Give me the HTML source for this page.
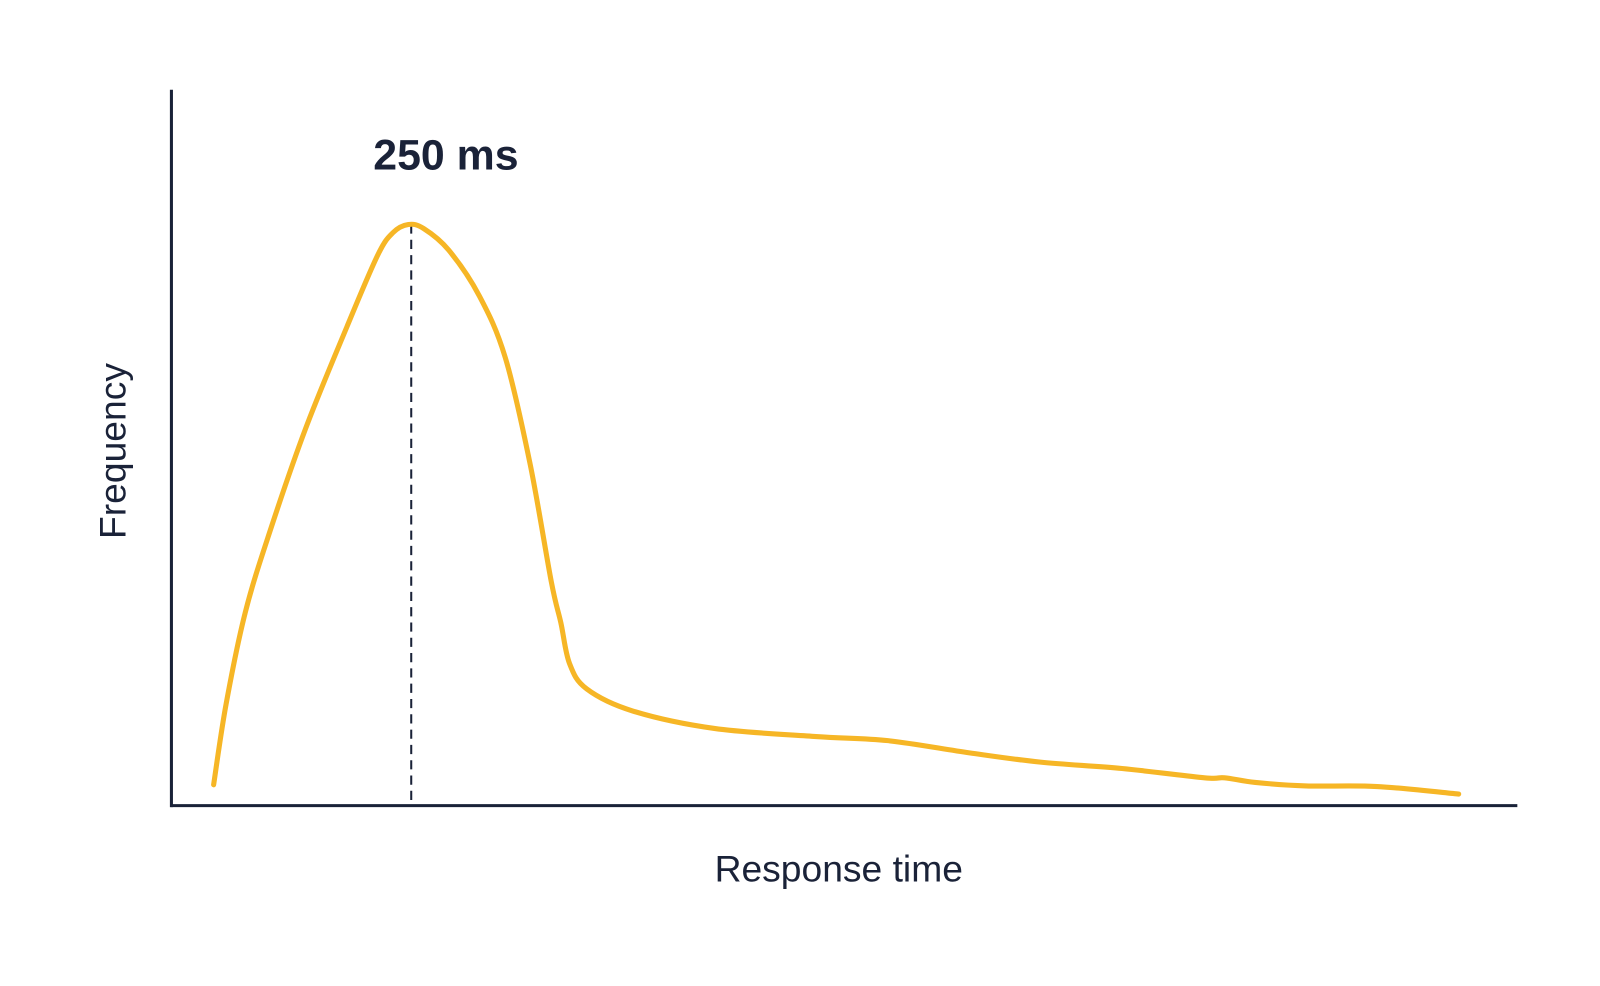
<!DOCTYPE html>
<html><head><meta charset="utf-8"><style>
html,body{margin:0;padding:0;background:#fff;}
svg{display:block;}
</style></head><body>
<svg id="chart" width="1600" height="986" xmlns="http://www.w3.org/2000/svg">
<rect width="1600" height="986" fill="#fff"/>
<g transform="scale(1.0204)">
<line x1="168" y1="88" x2="168" y2="791" stroke="#1a2238" stroke-width="3"/>
<line x1="167" y1="789.5" x2="1487" y2="789.5" stroke="#1a2238" stroke-width="3"/>
<text x="437" y="166" text-anchor="middle" font-family="Liberation Sans, sans-serif" font-weight="bold" font-size="42" fill="#1a2238">250 ms</text>
<text x="822" y="864" text-anchor="middle" font-family="Liberation Sans, sans-serif" font-size="36.5" fill="#1a2238">Response time</text>
<text transform="translate(123,442) rotate(-90)" text-anchor="middle" font-family="Liberation Sans, sans-serif" font-size="36.5" fill="#1a2238">Frequency</text>
<g id="plot"></g>
</g>
</svg>
<script>
const times = [44,57,77,103,140,183,215,231,247,263,289,321,348,374,396,406,415,433,481,566,672,747,832,906,991,1077,1098,1130,1183,1257,1342];
const freqs = [3.5,17.4,33.2,47.3,64.9,82.4,94.7,98.6,100,99.3,95.6,87.7,77.1,58.7,38.5,31.4,24.4,20.0,16.2,13.2,11.8,11.1,9.0,7.4,6.3,4.7,4.7,3.9,3.3,3.2,1.9];
const peakTime = 250;

function xScale(t){ return 168 + t / 1.0638; }
function yScale(f){ return 789 - f * 5.69; }

const NS = "http://www.w3.org/2000/svg";
const plot = document.getElementById('plot');
const pts = times.map((t,i)=>[xScale(t), yScale(freqs[i])]);
let d = "M" + pts[0][0] + "," + pts[0][1];
for (let i=0;i<pts.length-1;i++){
  const p0 = pts[i-1]||pts[i], p1 = pts[i], p2 = pts[i+1], p3 = pts[i+2]||p2;
  const c1x = p1[0]+(p2[0]-p0[0])/6, c1y = p1[1]+(p2[1]-p0[1])/6;
  const c2x = p2[0]-(p3[0]-p1[0])/6, c2y = p2[1]-(p3[1]-p1[1])/6;
  d += " C"+c1x+","+c1y+" "+c2x+","+c2y+" "+p2[0]+","+p2[1];
}
const peakIdx = freqs.indexOf(Math.max(...freqs));
const dash = document.createElementNS(NS,'line');


dash.setAttribute('x1', xScale(peakTime)); dash.setAttribute('x2', xScale(peakTime));
dash.setAttribute('y1', yScale(freqs[peakIdx])); dash.setAttribute('y2', 789);
dash.setAttribute('stroke', '#1a2238'); dash.setAttribute('stroke-width', '2');
dash.setAttribute('stroke-dasharray', '9,6');
plot.appendChild(dash);
const path = document.createElementNS(NS,'path');


path.setAttribute('d', d);
path.setAttribute('fill', 'none');
path.setAttribute('stroke', '#F6B626');
path.setAttribute('stroke-width', '5');
path.setAttribute('stroke-linecap', 'round');
path.setAttribute('stroke-linejoin', 'round');
plot.appendChild(path);
</script>
</body></html>
